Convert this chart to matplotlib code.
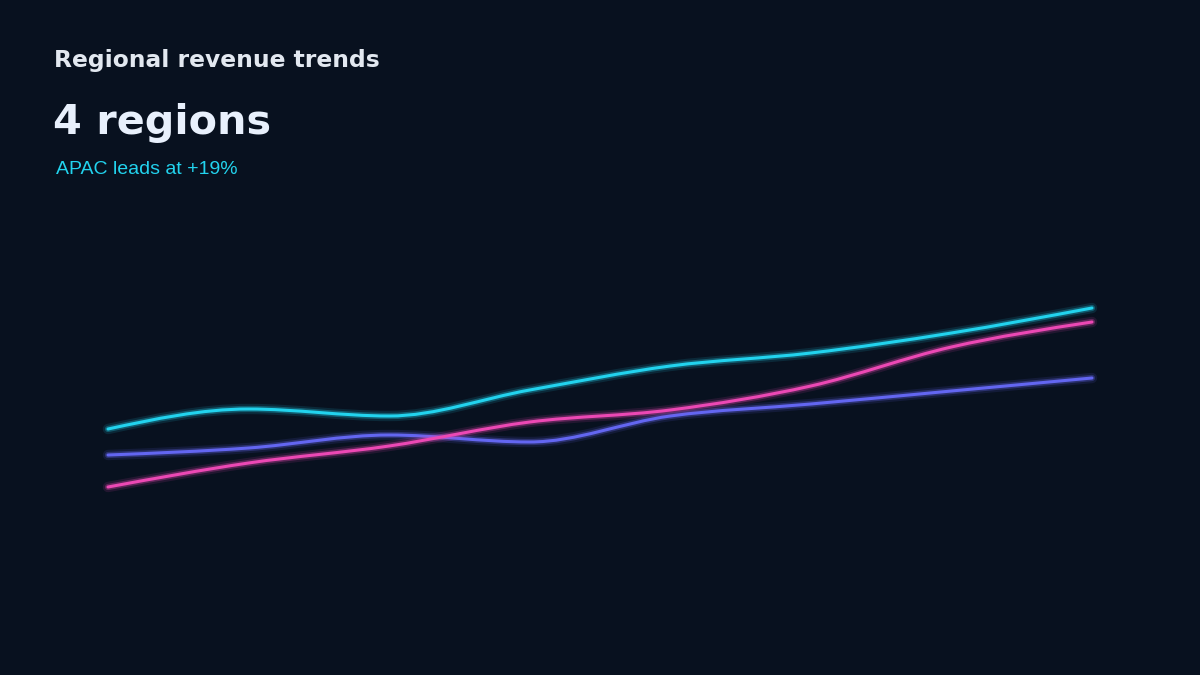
import matplotlib
matplotlib.use("Agg")
import matplotlib.pyplot as plt
import matplotlib.patheffects as pe
from matplotlib.path import Path
from matplotlib.patches import PathPatch
import numpy as np

# Revenue index per period (no axis shown)
periods = ["P1", "P2", "P3", "P4", "P5", "P6", "P7", "P8"]
apac = [68.4, 76.4, 73.6, 84.0, 93.6, 98.8, 106.8, 116.8]
north_america = [58.0, 60.8, 66.0, 63.2, 73.6, 78.4, 83.6, 88.8]
europe = [45.2, 54.8, 61.6, 71.2, 76.0, 85.6, 101.2, 111.2]

series = [
    ("North America", north_america, "#6366f1"),
    ("Europe", europe, "#ec48b4"),
    ("APAC", apac, "#22d3ee"),
]

BG = "#08111f"


def monotone_path(xs, ys):
    # monotone-x cubic (same idea as d3.curveMonotoneX) as bezier segments
    xs = np.asarray(xs, float)
    ys = np.asarray(ys, float)
    n = len(xs)
    h = np.diff(xs)
    s = np.diff(ys) / h
    t = np.zeros(n)
    for i in range(1, n - 1):
        p = (s[i - 1] * h[i] + s[i] * h[i - 1]) / (h[i - 1] + h[i])
        t[i] = (np.sign(s[i - 1]) + np.sign(s[i])) * min(abs(s[i - 1]), abs(s[i]), 0.5 * abs(p))
    t[0] = (3 * s[0] - t[1]) / 2
    t[-1] = (3 * s[-1] - t[-2]) / 2
    verts = [(xs[0], ys[0])]
    codes = [Path.MOVETO]
    for i in range(n - 1):
        dx = h[i] / 3
        verts += [(xs[i] + dx, ys[i] + dx * t[i]),
                  (xs[i + 1] - dx, ys[i + 1] - dx * t[i + 1]),
                  (xs[i + 1], ys[i + 1])]
        codes += [Path.CURVE4] * 3
    return Path(verts, codes)


fig = plt.figure(figsize=(12, 6.75), dpi=100, facecolor=BG)
ax = fig.add_axes([108 / 1200, 75 / 675, 984 / 1200, 350 / 675])
ax.set_facecolor(BG)
ax.set_xlim(0, len(periods) - 1)
ax.set_ylim(0, 140)
ax.axis("off")

x = np.arange(len(periods))
for name, vals, color in series:
    patch = PathPatch(monotone_path(x, vals), facecolor="none", edgecolor=color,
                      lw=2.2, capstyle="round", joinstyle="round", clip_on=False)
    patch.set_path_effects([
        pe.Stroke(linewidth=7.5, foreground=color, alpha=0.12),
        pe.Stroke(linewidth=4.5, foreground=color, alpha=0.3),
        pe.Normal(),
    ])
    ax.add_patch(patch)

fig.text(54 / 1200, 1 - 67 / 675, "Regional revenue trends", color="#e2e8f0",
         fontsize=16.8, fontweight="bold", family="DejaVu Sans", va="baseline")
fig.text(53 / 1200, 1 - 134 / 675, "4 regions", color="#e8f0fc",
         fontsize=29.8, fontweight="bold", family="DejaVu Sans", va="baseline")
fig.text(56 / 1200, 1 - 174 / 675, "APAC leads at +19%", color="#22d3ee",
         fontsize=14, family="Liberation Sans", va="baseline")

fig.savefig("out.png", dpi=100, facecolor=BG)
